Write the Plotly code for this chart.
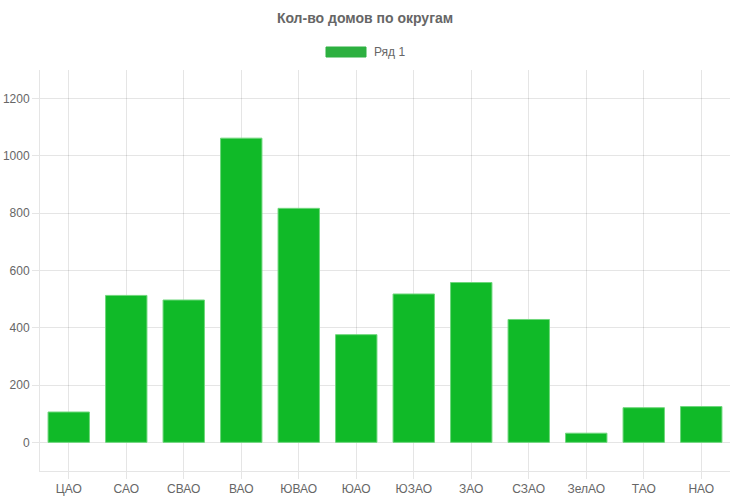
import plotly.graph_objects as go

districts = ["ЦАО", "САО", "СВАО", "ВАО", "ЮВАО", "ЮАО", "ЮЗАО", "ЗАО", "СЗАО", "ЗелАО", "ТАО", "НАО"]
houses = [106, 513, 497, 1062, 817, 376, 518, 558, 429, 32, 121, 125]
y_ticks = [0, 200, 400, 600, 800, 1000, 1200]

grid = "rgba(0,0,0,0.1)"
font = "Liberation Sans, Arial, sans-serif"

fig = go.Figure()
fig.add_trace(go.Bar(
    x=districts, y=houses, name="Ряд 1",
    marker=dict(color="#10ba28", line=dict(color="#6fd77c", width=1)),
    width=0.72, showlegend=False,
))

fig.update_layout(
    width=730, height=500,
    margin=dict(l=40, r=0, t=70, b=29),
    paper_bgcolor="white", plot_bgcolor="white",
    font=dict(family=font, size=12, color="#666"),
    title=dict(text="<b>Кол-во домов по округам</b>", x=0.5, xanchor="center",
               y=1 - 18 / 500, yanchor="middle",
               font=dict(family=font, size=14, color="#666")),
    showlegend=False,
    bargap=0.28,
)

# legend box like Chart.js
fig.add_shape(type="rect", xref="paper", yref="paper",
              x0=(326 - 40) / 690, x1=(366 - 40) / 690,
              y0=(471 - 57) / 401, y1=(471 - 47) / 401,
              fillcolor="#2db040", line=dict(color="#2db040", width=1))
fig.add_annotation(text="Ряд 1", xref="paper", yref="paper",
                   x=(372 - 40) / 690, y=(471 - 52) / 401,
                   xanchor="left", yanchor="middle", showarrow=False,
                   font=dict(family=font, size=12, color="#666"))

fig.update_xaxes(
    showgrid=True, gridcolor=grid, gridwidth=1,
    showline=True, linecolor=grid, linewidth=1,
    ticks="outside", ticklen=7, tickcolor=grid,
    tickfont=dict(family=font, size=12, color="#666"),
    automargin=False,
)
fig.update_yaxes(
    range=[-100, 1300], tickvals=y_ticks,
    showgrid=True, gridcolor=grid, gridwidth=1, zeroline=False,
    showline=True, linecolor=grid, linewidth=1,
    ticks="outside", ticklen=7, tickcolor=grid,
    tickfont=dict(family=font, size=12, color="#666"),
    automargin=False,
)

fig.write_html("out.html", config={"displayModeBar": False},
               post_script="document.body.style.margin='0';")
